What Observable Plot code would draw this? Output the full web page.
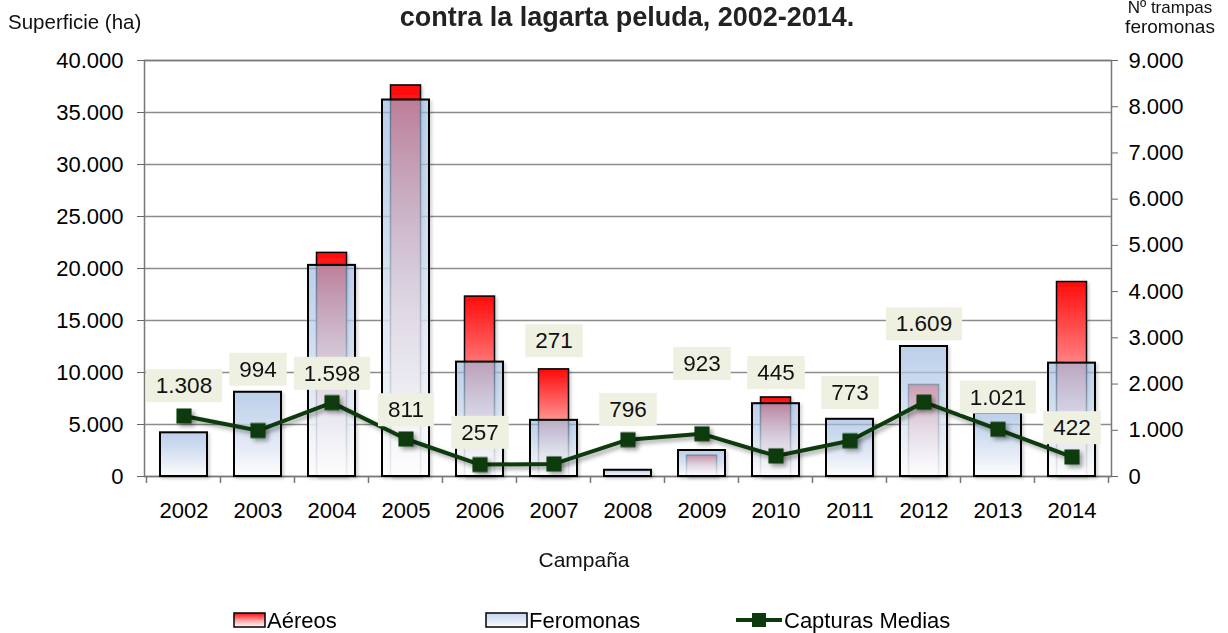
<!DOCTYPE html>
<html>
<head>
<meta charset="utf-8">
<script src="https://cdn.jsdelivr.net/npm/d3@7"></script>
<script src="https://cdn.jsdelivr.net/npm/@observablehq/plot@0.6"></script>
<style>
  body { margin: 0; background: #fff; }
  #chart svg { font-family: "Liberation Sans", Arial, sans-serif; }
</style>
</head>
<body>
<div id="chart"></div>
<script>
// ---- data ----
const years = ["2002","2003","2004","2005","2006","2007","2008","2009","2010","2011","2012","2013","2014"];
const aereos = [0, 0, 21500, 37600, 17300, 10300, 0, 2000, 7600, 0, 8800, 0, 18700];       // ha
const feromonas = [4200, 8100, 20300, 36200, 11000, 5400, 600, 2500, 7000, 5500, 12500, 6100, 10900]; // ha
const capturas = [1308, 994, 1598, 811, 257, 271, 796, 923, 445, 773, 1609, 1021, 422];   // right axis
const leftTicks = [0, 5000, 10000, 15000, 20000, 25000, 30000, 35000, 40000];
const rightTicks = [0, 1000, 2000, 3000, 4000, 5000, 6000, 7000, 8000, 9000];
// label lift above each marker (px), as placed in the reference
const labelLift = [30, 61, 29, 29, 32, 123, 30, 70, 83, 48, 78, 32, 29];

const fmt = d3.formatLocale({decimal: ",", thousands: ".", grouping: [3], currency: ["", ""]}).format(",d");
const rows = years.map((y, i) => ({year: y, aereos: aereos[i], feromonas: feromonas[i], capturas: capturas[i]}));
const k = 40000 / 9000; // right axis -> left axis units
const green = "#0c3a0c";

const defs = () => {
  const d = d3.create("svg:defs");
  const r = d.append("linearGradient").attr("id", "gRed").attr("x1", 0).attr("y1", 0).attr("x2", 0).attr("y2", 1);
  r.append("stop").attr("offset", "0%").attr("stop-color", "#ff0a0a");
  r.append("stop").attr("offset", "55%").attr("stop-color", "#ffa8a8");
  r.append("stop").attr("offset", "100%").attr("stop-color", "#ffffff");
  const b = d.append("linearGradient").attr("id", "gBlue").attr("x1", 0).attr("y1", 0).attr("x2", 0).attr("y2", 1);
  b.append("stop").attr("offset", "0%").attr("stop-color", "#9ebde6").attr("stop-opacity", 0.6);
  b.append("stop").attr("offset", "60%").attr("stop-color", "#dfe8f6").attr("stop-opacity", 0.8);
  b.append("stop").attr("offset", "100%").attr("stop-color", "#ffffff").attr("stop-opacity", 0.92);
  const f = d.append("filter").attr("id", "shadow").attr("x", "-20%").attr("y", "-20%").attr("width", "150%").attr("height", "150%");
  f.append("feDropShadow").attr("dx", 3).attr("dy", 3).attr("stdDeviation", 2).attr("flood-color", "#000").attr("flood-opacity", 0.35);
  const f2 = d.append("filter").attr("id", "shadow2").attr("x", "-20%").attr("y", "-20%").attr("width", "150%").attr("height", "150%");
  f2.append("feDropShadow").attr("dx", 2).attr("dy", 2).attr("stdDeviation", 1.5).attr("flood-color", "#000").attr("flood-opacity", 0.18);
  return d.node();
};

const labelMarks = rows.map((r, i) =>
  Plot.text([r], {x: "year", y: d => d.capturas * k, text: d => fmt(d.capturas), dy: -labelLift[i],
    fontSize: 22.5, fill: "#111"}));

const chart = Plot.plot({
  width: 1228, height: 633,
  marginTop: 60, marginBottom: 157, marginLeft: 144, marginRight: 117,
  style: {fontFamily: "Liberation Sans, Arial, sans-serif", fontSize: "22px", color: "#000", background: "#fff", overflow: "visible"},
  x: {domain: years, paddingInner: 0.37, paddingOuter: 0.185},
  y: {domain: [0, 40000]},
  marks: [
    defs,
    Plot.gridY(leftTicks, {stroke: "#8c8c8c", strokeOpacity: 1, strokeWidth: 1.5}),
    Plot.frame({stroke: "#777", strokeWidth: 1.5}),
    Plot.barY(rows.filter(d => d.aereos > 0), {x: "year", y: "aereos", fill: "url(#gRed)", stroke: "#000", strokeWidth: 1.5, insetLeft: 8.5, insetRight: 8.5}),
    Plot.barY(rows, {x: "year", y: "feromonas", fill: "url(#gBlue)", stroke: "#000", strokeWidth: 2}),
    Plot.axisY(leftTicks, {anchor: "left", tickFormat: fmt, tickSize: 7, tickPadding: 14, label: null, stroke: "#666", fill: "#000", fontSize: 22}),
    Plot.axisY(rightTicks.map(v => v * k), {anchor: "right", tickFormat: d => fmt(Math.round(d / k)), tickSize: 6, tickPadding: 11, label: null, stroke: "#666", fill: "#000", fontSize: 22}),
    Plot.axisX({tickSize: 0, tickPadding: 26, label: null, fill: "#000", fontSize: 22}),
    Plot.line(rows, {x: "year", y: d => d.capturas * k, stroke: green, strokeWidth: 4}),
    Plot.dot(rows, {x: "year", y: d => d.capturas * k, symbol: "square", r: 8.5, fill: green, stroke: "none"}),
    ...labelMarks
  ]
});

document.getElementById("chart").appendChild(chart);
const svg = d3.select(chart);

// shadows
svg.selectAll('g[aria-label="line"], g[aria-label="dot"]').attr("filter", "url(#shadow)");
svg.selectAll('g[aria-label="bar"]').attr("filter", "url(#shadow2)");

// label boxes
svg.selectAll('g[aria-label="text"] text').each(function () {
  const bb = this.getBBox();
  const padX = 10, padY = 4;
  d3.select(this.parentNode).insert("rect", () => this)
    .attr("transform", this.getAttribute("transform"))
    .attr("x", bb.x - padX).attr("y", bb.y - padY)
    .attr("width", bb.width + 2 * padX).attr("height", bb.height + 2 * padY)
    .attr("fill", "#eef0e1");
});

// category-boundary ticks on the x axis
const xs = chart.scale("x");
const yS = chart.scale("y");
const y0 = yS.apply(0);
const step = xs.step;
const gT = svg.append("g").attr("stroke", "#777").attr("stroke-width", 1.5);
years.concat([null]).forEach((yr, i) => {
  const cx = i < years.length ? xs.apply(yr) + xs.bandwidth / 2 - step / 2 : xs.apply(years[years.length - 1]) + xs.bandwidth / 2 + step / 2;
  gT.append("line").attr("x1", cx).attr("x2", cx).attr("y1", y0).attr("y2", y0 + 7);
});

// titles
const font = "Liberation Sans, Arial, sans-serif";
const T = (x, y, size, anchor, txt, weight) => svg.append("text").attr("x", x).attr("y", y)
  .attr("text-anchor", anchor).attr("font-size", size).attr("font-family", font)
  .attr("font-weight", weight || "normal").attr("fill", "#111").text(txt);
T(627, 26, 27, "middle", "contra la lagarta peluda, 2002-2014.", "bold").attr("fill", "#222");
T(8, 29, 20.5, "start", "Superficie (ha)");
T(1170, 13, 17, "middle", "Nº trampas");
T(1170, 33, 19, "middle", "feromonas");
T(584, 567, 21, "middle", "Campaña");

// legend
const lg = svg.append("g").attr("font-family", font).attr("font-size", 22).attr("fill", "#000").attr("text-anchor", "start");
lg.append("rect").attr("x", 234).attr("y", 613).attr("width", 31).attr("height", 14).attr("fill", "url(#gRed)").attr("stroke", "#000").attr("stroke-width", 1.5);
lg.append("text").attr("x", 267).attr("y", 628).text("Aéreos");
lg.append("rect").attr("x", 486).attr("y", 613).attr("width", 41).attr("height", 14).attr("fill", "url(#gBlue)").attr("stroke", "#000").attr("stroke-width", 1.5);
lg.append("text").attr("x", 529).attr("y", 628).text("Feromonas");
lg.append("line").attr("x1", 736).attr("x2", 782).attr("y1", 620).attr("y2", 620).attr("stroke", green).attr("stroke-width", 4);
lg.append("rect").attr("x", 752).attr("y", 613).attr("width", 14).attr("height", 14).attr("fill", green);
lg.append("text").attr("x", 784).attr("y", 628).text("Capturas Medias");
</script>
</body>
</html>
